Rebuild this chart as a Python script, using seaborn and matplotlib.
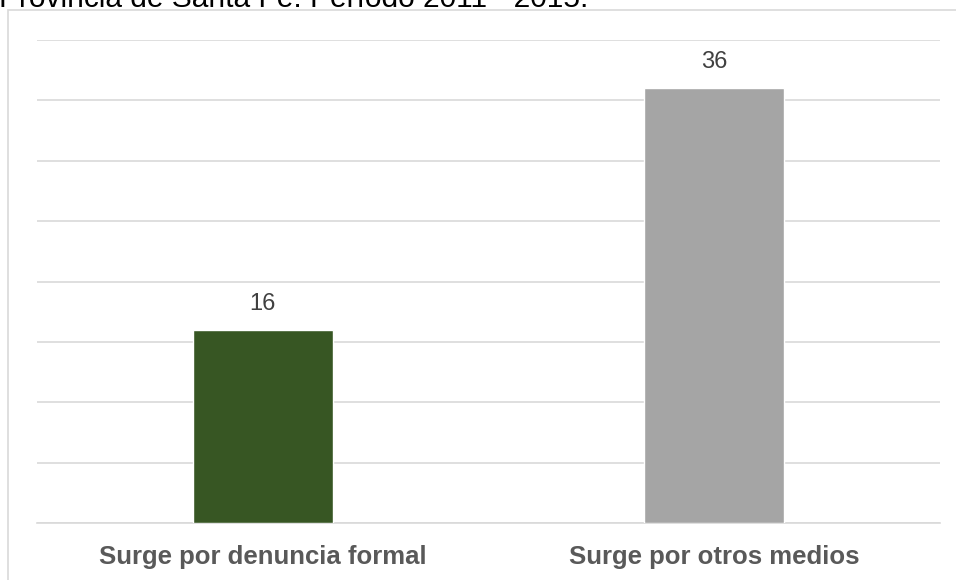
import matplotlib
matplotlib.use("Agg")
import matplotlib.pyplot as plt
import seaborn as sns
import pandas as pd
from matplotlib.patches import Rectangle

categories = ["Surge por denuncia formal", "Surge por otros medios"]
values = [16, 36]
colors = ["#375623", "#A5A5A5"]
title_text = "Provincia de Santa Fe. Período 2011 - 2015."

sns.set_style("white")
plt.rcParams['font.family'] = ['Liberation Sans', 'DejaVu Sans']

df = pd.DataFrame({"cat": categories, "val": values})

fig = plt.figure(figsize=(9.56, 5.80), dpi=100)
# outer chart frame
fig.patches.append(Rectangle((8/956, -0.1), 1.2, 1 - 10/580 + 0.1, transform=fig.transFigure,
                             fill=False, edgecolor="#D9D9D9", linewidth=1.2, zorder=0))
ax = fig.add_axes([37/956, 57/580, 903/956, (523-40)/580])

sns.barplot(data=df, x="cat", y="val", hue="cat", palette=colors, width=0.31,
            legend=False, ax=ax, saturation=1, zorder=3)

ax.set_ylim(0, 40)
ax.set_yticks(range(0, 41, 5))
ax.yaxis.grid(True, color="#D9D9D9", linewidth=1.2, zorder=0)
ax.set_axisbelow(True)
ax.tick_params(axis="y", left=False, labelleft=False)
ax.tick_params(axis="x", bottom=False, pad=12)
for s in ["top", "right", "left"]:
    ax.spines[s].set_visible(False)
ax.spines["bottom"].set_color("#D9D9D9")
ax.spines["bottom"].set_linewidth(1.2)
ax.set_xlabel("")
ax.set_ylabel("")

for lbl in ax.get_xticklabels():
    lbl.set_fontweight("bold")
    lbl.set_fontsize(18.5)
    lbl.set_color("#595959")

for c in ax.containers:
    ax.bar_label(c, fmt="%d", padding=11, fontsize=17, color="#404040")

fig.text(-1/956, 1.0 - 7/580, title_text, fontsize=21.5, color="#000000",
         ha="left", va="baseline")

fig.savefig("out.png", dpi=100)
